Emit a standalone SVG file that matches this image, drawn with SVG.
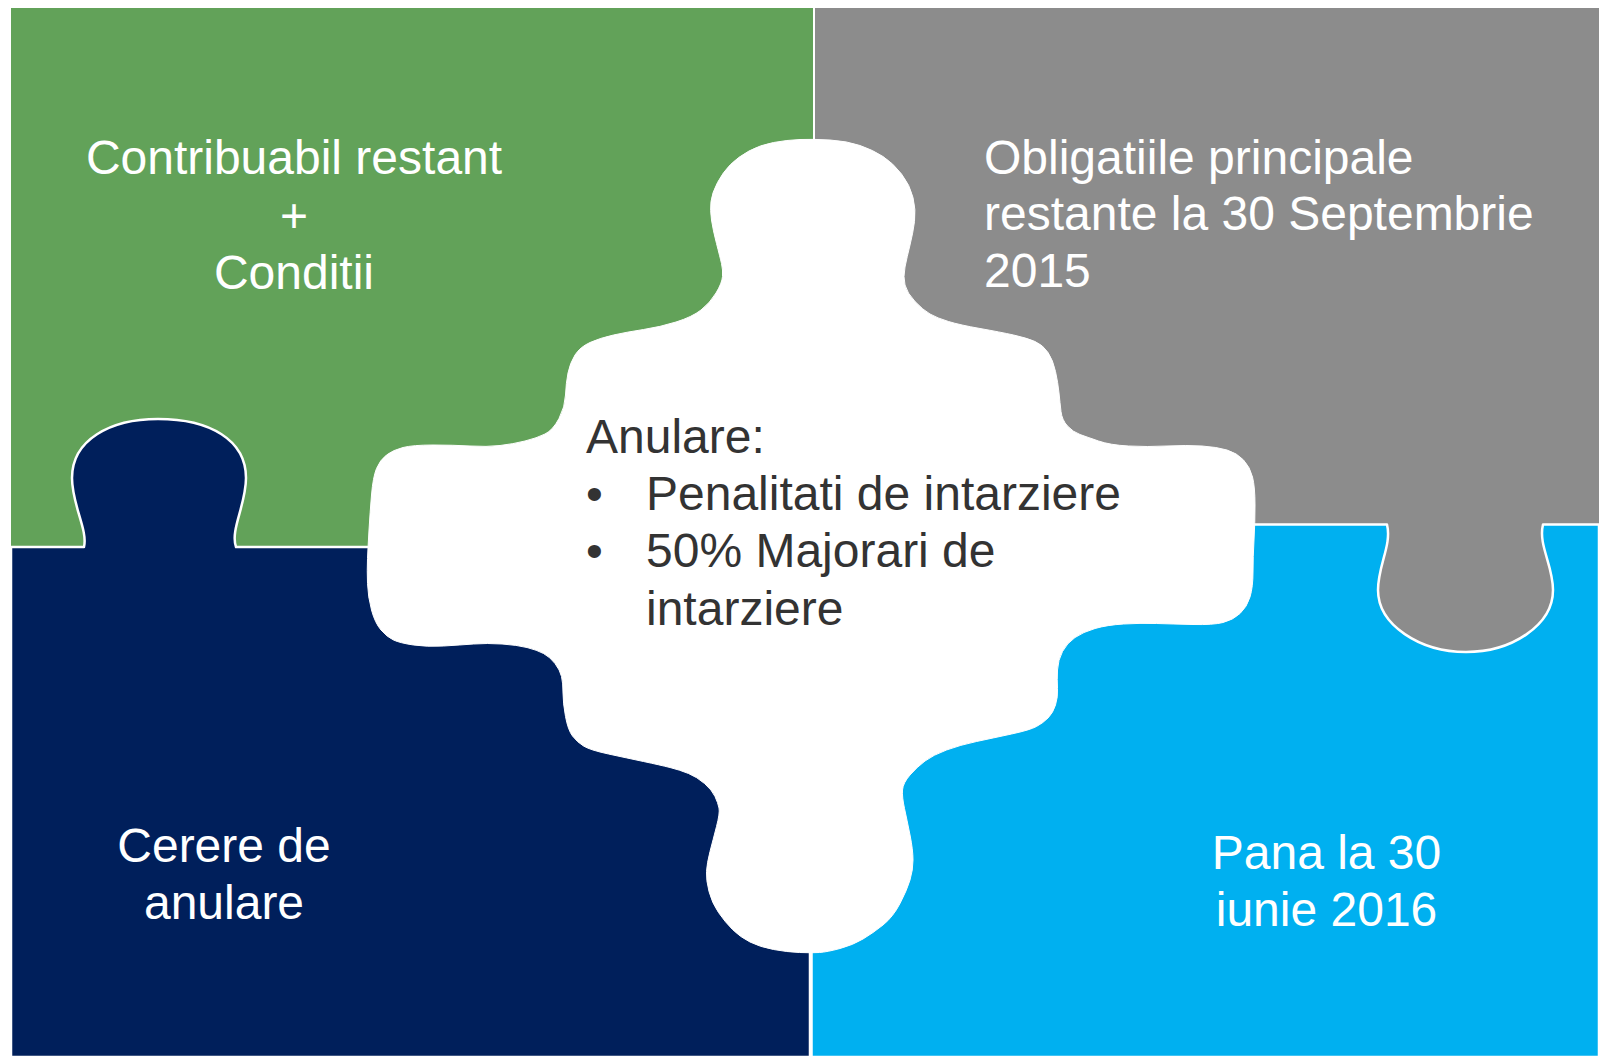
<svg xmlns="http://www.w3.org/2000/svg" width="1599" height="1057" viewBox="0 0 1599 1057">
<style>
  .lbl { font-family: "Liberation Sans", Arial, sans-serif; font-size: 48px; fill: #FFFFFF; }
  .mid { font-family: "Liberation Sans", Arial, sans-serif; font-size: 48px; fill: #333333; }
  .edge { stroke: #FFFFFF; stroke-width: 2.5; stroke-linejoin: round; }
</style>
<rect x="0" y="0" width="1599" height="1057" fill="#FFFFFF"/>
<g id="piece-green">
  <rect x="11" y="8" width="802" height="539" fill="#62A259"/>
  <text class="lbl" text-anchor="middle"><tspan x="294" y="174">Contribuabil restant</tspan><tspan x="294" y="231.5">+</tspan><tspan x="294" y="289">Conditii</tspan></text>
</g>
<g id="piece-gray">
  <path fill="#8C8C8C" d="M 815 8 L 1599 8 L 1599 524.5 L 1543 524.5 C 1538 545 1553 565 1553 590 C 1553 625 1512 652 1466 652 C 1420 652 1378 625 1378 590 C 1378 565 1392 545 1387 524.5 L 815 524.5 Z"/>
  <text class="lbl"><tspan x="984" y="173.5">Obligatiile principale</tspan><tspan x="984" y="230">restante la 30 Septembrie</tspan><tspan x="984" y="287">2015</tspan></text>
</g>
<g id="piece-navy">
  <path class="edge" fill="#001F5B" d="M 11 547 L 84 547 C 88 530 72 505 72 478 C 72 440 110 419 158 419 C 210 419 246 440 246 478 C 246 505 230 530 236 547 L 810 547 L 810 1057 L 11 1057 Z"/>
  <text class="lbl" text-anchor="middle"><tspan x="224" y="862">Cerere de</tspan><tspan x="224" y="919">anulare</tspan></text>
</g>
<g id="piece-blue">
  <path class="edge" fill="#00B0F0" d="M 811.5 524.5 L 1387 524.5 C 1392 545 1378 565 1378 590 C 1378 625 1420 652 1466 652 C 1512 652 1553 625 1553 590 C 1553 565 1538 545 1543 524.5 L 1599 524.5 L 1599 1057 L 811.5 1057 Z"/>
  <text class="lbl" text-anchor="middle"><tspan x="1326.5" y="868.5">Pana la 30</tspan><tspan x="1326.5" y="926">iunie 2016</tspan></text>
</g>
<g id="piece-center">
  <path fill="#FFFFFF" stroke="#FFFFFF" stroke-width="1" d="M 643.5 329.5 Q 660 327 676 322 Q 692 317 701 310 Q 710 303 716 293 Q 722 283 722.5 276.5 Q 723 270 721.5 263.5 Q 720 257 716.5 243.5 Q 713 230 711.5 220 Q 710 210 711 201.5 Q 712 193 717.5 182.5 Q 723 172 730.5 164.5 Q 738 157 749 151 Q 760 145 773.5 142.5 Q 787 140 800 139.5 Q 813 139 830 140 Q 847 141 860 145.5 Q 873 150 883 156.5 Q 893 163 901.5 174 Q 910 185 913 197.5 Q 916 210 914.5 221.5 Q 913 233 910 245 Q 907 257 905 267 Q 903 277 905 285 Q 907 293 915 301.5 Q 923 310 930 314 Q 937 318 948.5 321.5 Q 960 325 980 328.5 Q 1000 332 1013.5 335 Q 1027 338 1035 341.5 Q 1043 345 1048 352.5 Q 1053 360 1055.5 371.5 Q 1058 383 1059 393 Q 1060 403 1061 411.5 Q 1062 420 1067.5 426 Q 1073 432 1080 434.5 Q 1087 437 1098.5 441 Q 1110 445 1128.5 446 Q 1147 447 1167 446 Q 1187 445 1202 446 Q 1217 447 1227 450 Q 1237 453 1243.5 460 Q 1250 467 1252.5 477 Q 1255 487 1255 505 Q 1255 523 1254 540 Q 1253 557 1253 572 Q 1253 587 1250 597 Q 1247 607 1240 613.5 Q 1233 620 1223 622.5 Q 1213 625 1193 624.5 Q 1173 624 1156.5 623.5 Q 1140 623 1123.5 624 Q 1107 625 1095 628.5 Q 1083 632 1075 637.5 Q 1067 643 1062.5 651.5 Q 1058 660 1057.5 670 Q 1057 680 1057.5 688.5 Q 1058 697 1055.5 705 Q 1053 713 1048 718 Q 1043 723 1036.5 726.5 Q 1030 730 1011.5 734 Q 993 738 976.5 741.5 Q 960 745 946.5 750 Q 933 755 925 761 Q 917 767 910 775 Q 903 783 902.5 790 Q 902 797 904.5 808.5 Q 907 820 910 835 Q 913 850 913 860 Q 913 870 910 880 Q 907 890 900 903.5 Q 893 917 883 925 Q 873 933 863 939 Q 853 945 840 948.5 Q 827 952 819.5 952.5 Q 812 953 799.5 952.5 Q 787 952 773.5 949.5 Q 760 947 750 942 Q 740 937 732.5 929.5 Q 725 922 718.5 912.5 Q 712 903 709 891.5 Q 706 880 706.5 871.5 Q 707 863 710 851.5 Q 713 840 716.5 826.5 Q 720 813 719 808 Q 718 803 715 796.5 Q 712 790 704.5 783.5 Q 697 777 688.5 773.5 Q 680 770 670 767.5 Q 660 765 643.5 761.5 Q 627 758 608.5 754 Q 590 750 583.5 746 Q 577 742 572.5 736 Q 568 730 565.5 716.5 Q 563 703 563 693 Q 563 683 561.5 676.5 Q 560 670 555 663.5 Q 550 657 543.5 653.5 Q 537 650 527 647.5 Q 517 645 502 644 Q 487 643 473.5 644 Q 460 645 443.5 646 Q 427 647 413.5 645 Q 400 643 393.5 640 Q 387 637 381 630 Q 375 623 371.5 610 Q 368 597 367.5 583.5 Q 367 570 367.5 558.5 Q 368 547 369 530 Q 370 513 371.5 495 Q 373 477 376.5 468.5 Q 380 460 386.5 455 Q 393 450 403 447.5 Q 413 445 433 445 Q 453 445 470 446 Q 487 447 500 445.5 Q 513 444 525 441 Q 537 438 545 434 Q 553 430 559 418.5 Q 565 407 565.5 395 Q 566 383 568 373 Q 570 363 575 355 Q 580 347 590 342.5 Q 600 338 613.5 335 Q 627 332 643.5 329.5 Z"/>
  <text class="mid"><tspan x="586" y="453">Anulare:</tspan><tspan x="586" y="510">•</tspan><tspan x="646" y="510">Penalitati de intarziere</tspan><tspan x="586" y="567">•</tspan><tspan x="646" y="567">50% Majorari de</tspan><tspan x="646" y="624.5">intarziere</tspan></text>
</g>
<g id="connectors"/>
</svg>
